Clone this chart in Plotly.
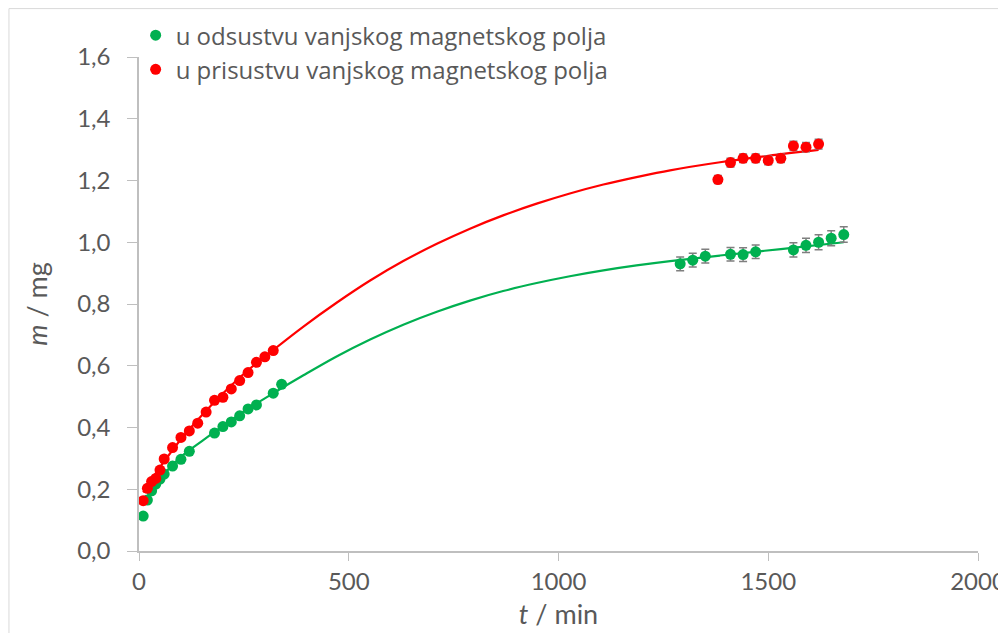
import plotly.graph_objects as go

# podaci bez magnetskog polja (zeleno)
t_bez = [10, 20, 30, 40, 50, 60, 80, 100, 120, 180, 200, 220, 240, 260, 280, 320, 340,
         1290, 1320, 1350, 1410, 1440, 1470, 1560, 1590, 1620, 1650, 1680]
m_bez = [0.113, 0.165, 0.195, 0.217, 0.233, 0.249, 0.275, 0.297, 0.323, 0.382, 0.403, 0.418,
         0.438, 0.460, 0.473, 0.511, 0.540,
         0.930, 0.942, 0.955, 0.961, 0.960, 0.969, 0.975, 0.990, 1.000, 1.013, 1.025]
err_bez = [0] * 17 + [0.022, 0.022, 0.022, 0.022, 0.022, 0.022, 0.023, 0.023, 0.024, 0.024, 0.025]

# podaci s magnetskim poljem (crveno)
t_sa = [10, 20, 30, 40, 50, 60, 80, 100, 120, 140, 160, 180, 200, 220, 240, 260, 280, 300, 320,
        1380, 1410, 1440, 1470, 1500, 1530, 1560, 1590, 1620]
m_sa = [0.163, 0.203, 0.225, 0.235, 0.262, 0.298, 0.335, 0.368, 0.389, 0.414, 0.450, 0.488,
        0.498, 0.525, 0.552, 0.578, 0.611, 0.629, 0.649,
        1.203, 1.258, 1.272, 1.272, 1.265, 1.272, 1.312, 1.308, 1.318]
err_sa = [0] * 19 + [0.013, 0.014, 0.014, 0.014, 0.014, 0.014, 0.015, 0.015, 0.016]

# krivulje (ocitano sa slike)
fit_bez_t = [10, 30, 60, 100, 150, 200, 250, 320, 392, 471, 551, 630, 710, 789, 868, 948,
             1027, 1107, 1186, 1266, 1385, 1530, 1680]
fit_bez_m = [0.152, 0.198, 0.250, 0.305, 0.356, 0.405, 0.452, 0.511, 0.569, 0.630, 0.685, 0.733,
             0.775, 0.811, 0.842, 0.868, 0.890, 0.909, 0.925, 0.939, 0.957, 0.978, 1.000]
fit_sa_t = [10, 30, 60, 100, 150, 200, 250, 320, 392, 471, 551, 630, 710, 789, 868, 948,
            1027, 1107, 1186, 1266, 1385, 1500, 1620]
fit_sa_m = [0.190, 0.232, 0.290, 0.362, 0.440, 0.510, 0.574, 0.651, 0.727, 0.804, 0.876, 0.939,
            0.995, 1.044, 1.087, 1.125, 1.158, 1.187, 1.211, 1.233, 1.259, 1.280, 1.299]

ZELENA = "#00b050"
CRVENA = "#ff0000"
SIVA = "#595959"
FONT = "Lato, sans-serif"

fig = go.Figure()
fig.add_trace(go.Scatter(x=fit_bez_t, y=fit_bez_m, mode="lines", line=dict(color=ZELENA, width=2.2, shape="spline"),
                         showlegend=False, hoverinfo="none"))
fig.add_trace(go.Scatter(x=fit_sa_t, y=fit_sa_m, mode="lines", line=dict(color=CRVENA, width=2.2, shape="spline"),
                         showlegend=False, hoverinfo="none"))
fig.add_trace(go.Scatter(x=t_bez, y=m_bez, mode="markers", name="u odsustvu vanjskog magnetskog polja",
                         marker=dict(color=ZELENA, size=11),
                         error_y=dict(type="data", array=err_bez, color="#7f7f7f", thickness=1.5, width=4)))
fig.add_trace(go.Scatter(x=t_sa, y=m_sa, mode="markers", name="u prisustvu vanjskog magnetskog polja",
                         marker=dict(color=CRVENA, size=11),
                         error_y=dict(type="data", array=err_sa, color="#7f7f7f", thickness=1.5, width=4)))

# stranica ima 8 px margine, pa je slika manja za to
fig.update_layout(
    width=998, height=625,
    margin=dict(l=131, r=28, t=49, b=82, autoexpand=False),
    paper_bgcolor="white", plot_bgcolor="white",
    font=dict(family=FONT, size=24, color=SIVA),
    separators=",.",
    legend=dict(x=-0.004, y=1.089, xanchor="left", yanchor="top", bgcolor="rgba(0,0,0,0)",
                font=dict(family="Open Sans, sans-serif", size=24, color=SIVA), tracegroupgap=0),
    shapes=[dict(type="rect", xref="paper", yref="paper", x0=-0.155, x1=1.2, y0=-0.5, y1=1.098,
                 line=dict(color="#d9d9d9", width=1), layer="below")],
)
fig.update_xaxes(range=[0, 2000], tickvals=[0, 500, 1000, 1500, 2000], showgrid=False, zeroline=False,
                 showline=True, linecolor="#bfbfbf", linewidth=1.5, ticks="outside", ticklen=8,
                 tickcolor="#bfbfbf", automargin=False,
                 title=dict(text="<i>t</i> / min", standoff=12,
                            font=dict(family=FONT, size=27, color=SIVA)))
fig.update_yaxes(range=[0, 1.6], dtick=0.2, tickformat=".1f", showgrid=False, zeroline=False,
                 showline=True, linecolor="#bfbfbf", linewidth=1.5, ticks="outside", ticklen=10,
                 tickcolor="#bfbfbf", ticklabelstandoff=12, automargin=False,
                 title=dict(text="<i>m</i> / mg", standoff=22,
                            font=dict(family=FONT, size=27, color=SIVA)))

fig.write_html("out.html")
